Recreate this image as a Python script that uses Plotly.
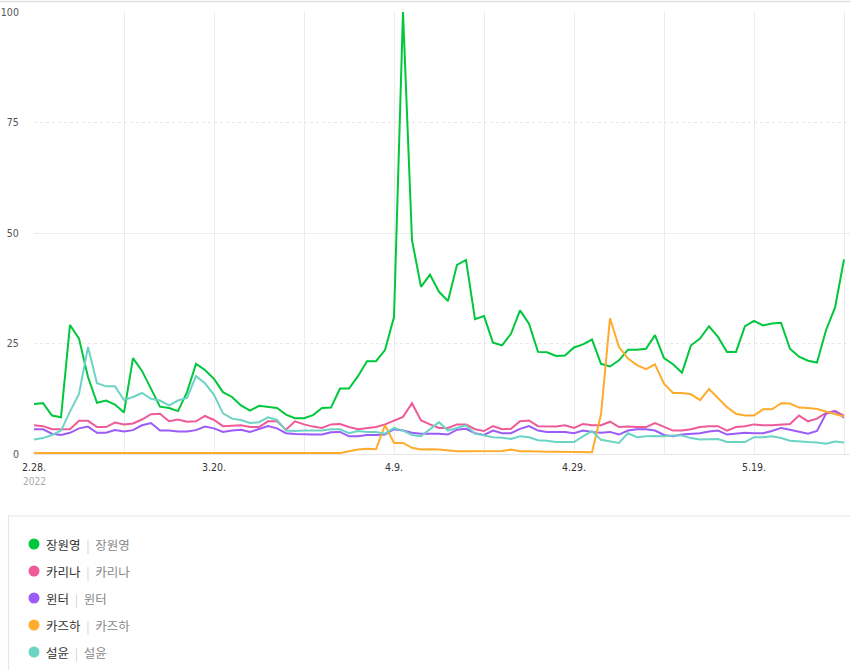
import plotly.graph_objects as go
import pandas as pd

# ---------------- data ----------------
dates = pd.date_range("2022-02-28", "2022-05-29", freq="D")

series_names = ["장원영", "카리나", "윈터", "카즈하", "설윤"]
series_colors = ["#00c73c", "#ef5b98", "#9b5cf8", "#ffab2e", "#6cd4c5"]

jang_wonyoung = [11.3, 11.5, 8.7, 8.3, 29.2, 26.1, 17.4, 11.6, 12.1, 11.2,
                 9.4, 21.7, 18.8, 14.7, 10.7, 10.4, 9.7, 14.0, 20.4, 19.0,
                 17.0, 14.0, 12.9, 11.0, 9.8, 10.9, 10.6, 10.4, 8.9, 8.1,
                 8.1, 8.8, 10.4, 10.5, 14.8, 14.8, 17.6, 21.0, 21.0, 23.5,
                 31.0, 100.0, 48.4, 37.8, 40.6, 36.7, 34.6, 42.8, 43.9, 30.5,
                 31.2, 25.2, 24.6, 27.2, 32.5, 29.5, 23.1, 23.0, 22.2, 22.3,
                 24.1, 24.8, 25.9, 20.4, 19.8, 21.2, 23.6, 23.6, 23.8, 26.9,
                 21.7, 20.3, 18.4, 24.6, 26.1, 28.9, 26.5, 23.1, 23.1, 28.9,
                 30.1, 29.1, 29.5, 29.7, 23.8, 22.0, 21.1, 20.7, 28.0, 33.1,
                 44.0]

karina = [6.5, 6.3, 5.6, 5.6, 5.6, 7.5, 7.5, 6.1, 6.1, 7.1,
          6.7, 6.9, 7.8, 9.0, 9.1, 7.4, 7.8, 7.3, 7.4, 8.6,
          7.7, 6.3, 6.4, 6.5, 6.1, 6.1, 7.4, 7.4, 5.5, 7.4,
          6.7, 6.2, 5.9, 6.7, 6.8, 6.1, 5.6, 5.9, 6.1, 6.7,
          7.6, 8.4, 11.5, 7.6, 6.7, 5.9, 5.9, 6.7, 6.7, 5.6,
          5.2, 6.3, 5.6, 5.7, 7.4, 7.6, 6.3, 6.2, 6.2, 6.5,
          5.9, 6.8, 6.5, 6.5, 7.3, 6.1, 6.2, 6.1, 6.1, 7.0,
          6.1, 5.3, 5.3, 5.6, 6.1, 6.3, 6.3, 5.3, 6.1, 6.3,
          6.7, 6.5, 6.5, 6.6, 6.8, 8.7, 7.4, 8.0, 9.3, 9.7,
          8.7]

winter = [5.6, 5.6, 4.6, 4.3, 4.8, 5.8, 6.2, 4.8, 4.8, 5.4,
          5.1, 5.4, 6.5, 7.0, 5.3, 5.3, 5.1, 5.1, 5.4, 6.2,
          5.8, 5.0, 5.3, 5.5, 5.0, 5.6, 6.3, 5.8, 4.7, 4.5,
          4.4, 4.4, 4.4, 4.9, 5.0, 4.0, 4.0, 4.3, 4.3, 4.4,
          5.6, 5.3, 4.8, 4.6, 4.6, 4.6, 4.4, 5.5, 5.7, 4.7,
          4.3, 5.3, 4.7, 4.7, 5.7, 6.3, 5.3, 5.0, 5.0, 5.0,
          4.7, 5.3, 5.0, 4.8, 5.0, 4.4, 5.3, 5.6, 5.6, 5.3,
          4.3, 4.0, 4.4, 4.6, 4.7, 5.1, 5.3, 4.4, 4.6, 4.8,
          4.7, 4.7, 5.2, 5.9, 5.5, 5.0, 4.6, 5.2, 9.1, 9.7,
          8.2]

kazuha = [0.2, 0.2, 0.2, 0.1, 0.2, 0.2, 0.2, 0.2, 0.2, 0.2,
          0.2, 0.2, 0.2, 0.2, 0.2, 0.2, 0.2, 0.2, 0.2, 0.2,
          0.2, 0.2, 0.2, 0.2, 0.2, 0.2, 0.2, 0.2, 0.2, 0.2,
          0.2, 0.2, 0.2, 0.2, 0.2, 0.6, 1.0, 1.2, 1.1, 6.5,
          2.5, 2.5, 1.4, 1.0, 1.1, 1.0, 0.8, 0.6, 0.6, 0.6,
          0.6, 0.6, 0.7, 1.0, 0.6, 0.6, 0.5, 0.5, 0.5, 0.5,
          0.5, 0.5, 0.4, 9.0, 30.7, 24.2, 21.6, 20.1, 19.2, 20.3,
          15.9, 13.8, 13.8, 13.5, 12.2, 14.7, 12.7, 10.6, 9.1, 8.7,
          8.7, 10.1, 10.1, 11.5, 11.4, 10.5, 10.4, 10.2, 9.6, 9.1,
          8.5]

seolyun = [3.3, 3.6, 4.3, 5.3, 9.6, 13.6, 24.2, 16.0, 15.3, 15.3,
           12.2, 12.9, 13.8, 12.5, 12.1, 11.0, 12.1, 12.7, 17.6, 16.0,
           13.4, 9.2, 8.0, 7.7, 7.0, 7.2, 8.3, 7.7, 5.3, 5.2,
           5.3, 5.3, 5.3, 5.6, 5.6, 4.7, 5.2, 5.0, 5.0, 4.6,
           5.9, 5.3, 4.3, 4.0, 5.7, 7.2, 5.3, 5.9, 6.5, 4.6,
           4.2, 3.8, 3.7, 3.4, 4.0, 3.8, 3.1, 3.0, 2.7, 2.7,
           2.7, 4.0, 5.2, 3.2, 2.9, 2.5, 4.7, 3.8, 4.0, 4.1,
           4.0, 4.2, 4.2, 3.6, 3.3, 3.4, 3.4, 2.7, 2.7, 2.7,
           3.8, 3.8, 4.0, 3.6, 3.0, 2.8, 2.7, 2.6, 2.3, 2.8,
           2.6]

series_values = [jang_wonyoung, karina, winter, kazuha, seolyun]

x_tick_dates = pd.date_range("2022-02-28", "2022-05-29", freq="10D")
x_tick_labels = ["2.28.", "", "3.20.", "", "4.9.", "", "4.29.", "", "5.19.", ""]
y_tick_vals = [0, 25, 50, 75, 100]
y_tick_labels = ["0", "25", "50", "75", "100"]
year_label = "2022"

# ---------------- geometry helpers ----------------
W, H = 850, 670
ML, MR, MT, MB = 34, 0, 12, 216
PW, PH = W - ML - MR, H - MT - MB


def px_x(p):
    return (p - ML) / PW


def px_y(p):
    return (H - MB - p) / PH


CJK = "Noto Sans CJK KR, Noto Sans, sans-serif"
NARROW = "Liberation Sans Narrow, DejaVu Sans Condensed, Arial Narrow, Liberation Sans, sans-serif"

fig = go.Figure()
for name, vals, col in zip(series_names, series_values, series_colors):
    fig.add_trace(go.Scatter(x=dates, y=vals, mode="lines", name=name,
                             line=dict(color=col, width=2), showlegend=False))

x_end = pd.Timestamp("2022-02-28") + pd.Timedelta(days=PW / 9.0)

fig.update_layout(
    width=W, height=H,
    margin=dict(l=ML, r=MR, t=MT, b=MB, pad=0),
    paper_bgcolor="white", plot_bgcolor="white",
    font=dict(family=CJK, size=11, color="#333"),
    xaxis=dict(
        type="date",
        range=[pd.Timestamp("2022-02-28"), x_end],
        tickmode="array", tickvals=list(x_tick_dates), ticktext=x_tick_labels,
        showgrid=True, gridcolor="#ececec", gridwidth=1,
        showline=True, linecolor="#e6e6e6", linewidth=1,
        zeroline=False,
        ticks="outside", ticklen=3, tickcolor="rgba(0,0,0,0)",
        tickfont=dict(family=NARROW, size=10.5, color="#333"),
        fixedrange=True,
    ),
    yaxis=dict(
        range=[0, 100],
        tickmode="array", tickvals=y_tick_vals, ticktext=y_tick_labels,
        showgrid=True, gridcolor="#e8e8e8", gridwidth=1, griddash="dot",
        zeroline=False, showline=False,
        ticks="outside", ticklen=12, tickcolor="rgba(0,0,0,0)",
        tickfont=dict(family=NARROW, size=10.5, color="#555"),
        fixedrange=True,
    ),
    yaxis2=dict(
        range=[0, 100], overlaying="y", side="left",
        tickmode="array", tickvals=[50, 100],
        showticklabels=False, showgrid=True, gridcolor="#ececec", gridwidth=1,
        zeroline=False, showline=False, fixedrange=True,
    ),
)

# invisible helper trace so the solid-grid axis is drawn
fig.add_trace(go.Scatter(x=[dates[0]], y=[None], yaxis="y2", mode="lines",
                         showlegend=False, hoverinfo="skip"))

shapes = []
# top border line
shapes.append(dict(type="line", xref="paper", yref="paper",
                   x0=px_x(0), x1=px_x(W), y0=px_y(1.5), y1=px_y(1.5),
                   line=dict(color="#dedede", width=1.5), layer="above"))
# legend box border
shapes.append(dict(type="rect", xref="paper", yref="paper",
                   x0=px_x(8.5), x1=px_x(W + 20), y0=px_y(516), y1=px_y(H + 20),
                   line=dict(color="#e6e6e6", width=1.2), fillcolor="rgba(0,0,0,0)"))

annotations = []
annotations.append(dict(xref="x", yref="paper", x=dates[0], y=px_y(481.5),
                        text=year_label, showarrow=False, xanchor="center", yanchor="middle",
                        font=dict(family=NARROW, size=10, color="#aaa")))

row_y0, row_step = 544, 27
for k, (name, col) in enumerate(zip(series_names, series_colors)):
    yc = row_y0 + k * row_step
    shapes.append(dict(type="circle", xref="paper", yref="paper",
                       xsizemode="pixel", ysizemode="pixel",
                       xanchor=px_x(34), yanchor=px_y(yc),
                       x0=-5.5, x1=5.5, y0=-5.5, y1=5.5,
                       fillcolor=col, line=dict(width=0)))
    nb = "\u00a0"
    txt = (f"<span style='color:#333'>{name}</span>{nb*2}"
           f"<span style='color:#d0d0d0'>|</span>{nb*2}"
           f"<span style='color:#888'>{name}</span>")
    annotations.append(dict(xref="paper", yref="paper", x=px_x(44), y=px_y(yc),
                            text=txt, showarrow=False, xanchor="left", yanchor="middle",
                            font=dict(family=CJK, size=12.5)))

fig.update_layout(shapes=shapes, annotations=annotations)

fig.write_html("out.html")
